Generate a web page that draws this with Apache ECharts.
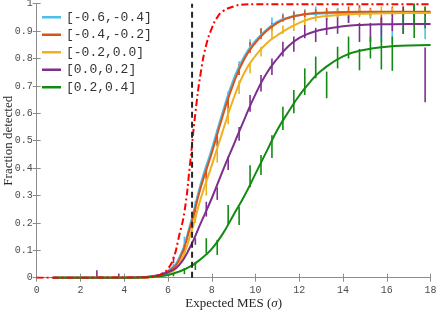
<!DOCTYPE html>
<html>
<head>
<meta charset="utf-8">
<script src="https://cdn.jsdelivr.net/npm/echarts@6/dist/echarts.min.js"></script>
<style>html,body{margin:0;padding:0;background:#fff}#c{width:436px;height:311px}</style>
</head>
<body>
<div id="c"></div>
<script>
// ---- data ----
var seriesNames = ['[-0.6,-0.4]', '[-0.4,-0.2]', '[-0.2,0.0]', '[0.0,0.2]', '[0.2,0.4]'];
var seriesColors = ['#4DBEEE', '#D95319', '#EDB120', '#7E2F8E', '#138A13'];

var xTicks = [0, 2, 4, 6, 8, 10, 12, 14, 16, 18];

// fitted curves (shared x grid)
var fitX = [0.75, 4, 4.5, 5, 5.5, 6, 6.5, 7, 7.5, 8, 8.5, 9, 9.5, 10, 10.5, 11, 11.5, 12, 12.5, 13, 14, 15, 16, 17, 18];
var fitBlue   = [0, 0, 0, 0.002, 0.008, 0.025, 0.07, 0.19, 0.345, 0.47, 0.605, 0.725, 0.81, 0.865, 0.905, 0.935, 0.95, 0.958, 0.962, 0.964, 0.966, 0.967, 0.967, 0.967, 0.967];
var fitOrange = [0, 0, 0, 0.002, 0.007, 0.022, 0.063, 0.18, 0.33, 0.455, 0.59, 0.71, 0.8, 0.858, 0.9, 0.93, 0.948, 0.958, 0.964, 0.967, 0.97, 0.971, 0.971, 0.971, 0.971];
var fitYellow = [0, 0, 0, 0.001, 0.005, 0.015, 0.048, 0.15, 0.29, 0.41, 0.535, 0.655, 0.75, 0.81, 0.855, 0.885, 0.91, 0.93, 0.945, 0.953, 0.96, 0.963, 0.965, 0.966, 0.966];
var fitPurple = [0, 0, 0.001, 0.003, 0.008, 0.02, 0.045, 0.11, 0.2, 0.29, 0.39, 0.485, 0.58, 0.67, 0.745, 0.8, 0.845, 0.875, 0.893, 0.905, 0.918, 0.923, 0.925, 0.926, 0.926];
var fitGreen  = [0, 0, 0, 0.001, 0.004, 0.01, 0.022, 0.04, 0.068, 0.105, 0.16, 0.23, 0.3, 0.38, 0.46, 0.54, 0.605, 0.665, 0.715, 0.755, 0.808, 0.832, 0.843, 0.847, 0.849];

// red dash-dot reference curve
var redX = [0, 5, 5.5, 5.75, 6, 6.25, 6.5, 6.75, 7, 7.25, 7.5, 7.75, 8, 8.25, 8.5, 9, 9.5, 10, 18];
var redY = [0, 0.001, 0.006, 0.015, 0.033, 0.07, 0.15, 0.24, 0.41, 0.6, 0.75, 0.85, 0.91, 0.95, 0.972, 0.99, 0.997, 0.998, 0.998];

var thresholdX = 7.1;

// error bars: x, low, high
var errBlueX  = [5.75, 6.25, 6.75, 7.25, 7.75, 8.25, 8.75, 9.25, 9.75, 10.25, 10.75, 11.25, 11.75, 12.25, 12.75, 13.25, 13.75, 14.25, 14.75, 15.25, 15.75, 16.25, 16.75, 17.25, 17.75];
var errBlueLo = [0.005, 0.03, 0.1, 0.22, 0.34, 0.48, 0.63, 0.74, 0.83, 0.875, 0.91, 0.935, 0.94, 0.95, 0.955, 0.94, 0.95, 0.93, 0.955, 0.945, 0.86, 0.855, 0.93, 0.92, 0.87];
var errBlueHi = [0.015, 0.05, 0.15, 0.28, 0.41, 0.54, 0.68, 0.79, 0.87, 0.91, 0.95, 0.965, 0.975, 0.98, 0.99, 0.98, 0.985, 0.975, 0.99, 0.97, 0.947, 0.947, 0.99, 0.99, 0.96];

var errOrangeX  = [6.25, 6.75, 7.25, 7.75, 8.25, 8.75, 9.25, 9.75, 10.25, 10.75, 11.25, 11.75, 12.25, 12.75, 13.25, 13.75, 14.25, 14.75, 15.25, 15.75, 16.25, 16.75, 17.25, 17.75];
var errOrangeLo = [0.03, 0.09, 0.22, 0.36, 0.48, 0.6, 0.74, 0.82, 0.87, 0.9, 0.935, 0.94, 0.95, 0.955, 0.96, 0.95, 0.96, 0.97, 0.955, 0.93, 0.96, 0.955, 0.96, 0.955];
var errOrangeHi = [0.045, 0.12, 0.26, 0.4, 0.52, 0.65, 0.78, 0.86, 0.91, 0.93, 0.96, 0.97, 0.975, 0.98, 0.985, 0.98, 0.99, 0.995, 0.985, 0.96, 0.99, 0.985, 0.99, 0.985];

var errYellowX  = [6.25, 6.75, 7.25, 7.75, 8.25, 8.75, 9.25, 9.75, 10.25, 10.75, 11.25, 11.75, 12.25, 12.75, 13.25, 13.75, 14.25, 14.75, 15.25, 15.75, 16.25, 16.75, 17.25, 17.75];
var errYellowLo = [0.02, 0.08, 0.2, 0.3, 0.42, 0.56, 0.67, 0.746, 0.807, 0.873, 0.89, 0.9, 0.92, 0.935, 0.94, 0.95, 0.945, 0.95, 0.95, 0.96, 0.955, 0.96, 0.95, 0.955];
var errYellowHi = [0.04, 0.11, 0.24, 0.35, 0.47, 0.62, 0.72, 0.782, 0.843, 0.91, 0.92, 0.94, 0.95, 0.965, 0.97, 0.98, 0.975, 0.985, 0.98, 0.99, 0.985, 0.99, 0.985, 0.99];

var errPurpleX  = [2.75, 3.75, 5.75, 6.25, 6.75, 7.25, 7.75, 8.25, 8.75, 9.25, 9.75, 10.25, 10.75, 11.25, 11.75, 12.25, 12.75, 13.25, 13.75, 14.25, 14.75, 15.25, 15.75, 16.25, 16.75, 17.25, 17.75];
var errPurpleLo = [0, 0, 0.005, 0.053, 0.09, 0.12, 0.223, 0.284, 0.393, 0.5, 0.606, 0.68, 0.74, 0.807, 0.825, 0.874, 0.86, 0.886, 0.89, 0.93, 0.86, 0.86, 0.88, 0.9, 0.89, 0.92, 0.64];
var errPurpleHi = [0.027, 0.015, 0.02, 0.077, 0.12, 0.144, 0.277, 0.33, 0.442, 0.55, 0.667, 0.74, 0.8, 0.861, 0.88, 0.922, 0.912, 0.947, 0.95, 0.96, 0.93, 0.93, 0.95, 0.97, 0.99, 1.0, 0.84];

var errGreenX  = [6.25, 6.75, 7.25, 7.75, 8.25, 8.75, 9.25, 9.75, 10.25, 10.75, 11.25, 11.75, 12.25, 12.75, 13.25, 13.75, 14.25, 14.75, 15.25, 15.75, 16.25, 16.75, 17.25, 17.75];
var errGreenLo = [0.005, 0.013, 0.028, 0.089, 0.083, 0.192, 0.192, 0.33, 0.375, 0.437, 0.539, 0.6, 0.667, 0.728, 0.655, 0.764, 0.8, 0.757, 0.8, 0.76, 0.755, 0.89, 0.875, 0.91];
var errGreenHi = [0.015, 0.035, 0.058, 0.144, 0.138, 0.265, 0.259, 0.41, 0.448, 0.52, 0.624, 0.685, 0.764, 0.807, 0.752, 0.843, 0.88, 0.835, 0.88, 0.88, 0.88, 0.977, 1.0, 0.99];

// ---- build ----
function zip2(xs, ys) { return xs.map(function (x, i) { return [x, ys[i]]; }); }
function zip3(xs, lo, hi) { return xs.map(function (x, i) { return [x, lo[i], hi[i]]; }); }

function errSeries(color, data) {
  return {
    type: 'custom',
    silent: true,
    data: data,
    z: 2,
    renderItem: function (params, api) {
      var x = api.value(0), lo = api.value(1), hi = api.value(2);
      var p1 = api.coord([x, lo]), p2 = api.coord([x, hi]);
      return {
        type: 'line',
        shape: { x1: p1[0], y1: p1[1], x2: p2[0], y2: p2[1] },
        style: { stroke: color, lineWidth: 1.6 }
      };
    }
  };
}

function fitSeries(idx, ys) {
  return {
    name: seriesNames[idx],
    type: 'line',
    data: zip2(fitX, ys),
    smooth: 0.5,
    showSymbol: false,
    symbol: 'none',
    z: 3,
    lineStyle: { color: seriesColors[idx], width: 2 },
    itemStyle: { color: seriesColors[idx] }
  };
}

var fits = [fitBlue, fitOrange, fitYellow, fitPurple, fitGreen];
var errs = [
  zip3(errBlueX, errBlueLo, errBlueHi),
  zip3(errOrangeX, errOrangeLo, errOrangeHi),
  zip3(errYellowX, errYellowLo, errYellowHi),
  zip3(errPurpleX, errPurpleLo, errPurpleHi),
  zip3(errGreenX, errGreenLo, errGreenHi)
];

var series = [];
for (var i = 0; i < 5; i++) series.push(errSeries(seriesColors[i], errs[i]));
for (var j = 0; j < 5; j++) series.push(fitSeries(j, fits[j]));
series.push({
  type: 'line', data: zip2(redX, redY), smooth: 0.5, symbol: 'none', z: 4,
  lineStyle: { color: '#FF0000', width: 2, type: [7, 3, 2, 3] }
});
series.push({
  type: 'line', data: [[thresholdX, 0], [thresholdX, 1]], symbol: 'none', z: 4,
  lineStyle: { color: '#262626', width: 2, type: [6, 4] }
});

var axisGray = '#8c8c8c';
var labelFont = { fontFamily: 'Liberation Mono', fontSize: 10, color: '#4d4d4d' };

var chart = echarts.init(document.getElementById('c'), null, { renderer: 'canvas' });
chart.setOption({
  animation: false,
  backgroundColor: '#fff',
  grid: { left: 36.7, right: 5.4, top: 3.7, bottom: 33.3, containLabel: false, outerBoundsMode: 'none' },
  legend: {
    data: seriesNames,
    orient: 'vertical',
    left: 37, top: 5,
    itemWidth: 19, itemHeight: 2.5, itemGap: 3,
    icon: 'rect',
    textStyle: { fontFamily: 'Liberation Mono', fontSize: 13, color: '#333', lineHeight: 14.5 }
  },
  xAxis: [{
    type: 'value', min: 0, max: 18, interval: 2,
    axisLine: { show: true, lineStyle: { color: axisGray, width: 1 } },
    axisTick: { show: true, inside: true, length: 4, lineStyle: { color: axisGray } },
    axisLabel: Object.assign({ margin: 8, formatter: function (v) { return xTicks.indexOf(v) >= 0 ? String(v) : ''; } }, labelFont),
    splitLine: { show: false },
    name: '{n|Expected MES (}{s|σ}{n|)}',
    nameLocation: 'middle', nameGap: 19, nameMoveOverlap: false,
    nameTextStyle: { rich: {
      n: { fontFamily: 'Liberation Serif', fontSize: 13, color: '#262626' },
      s: { fontFamily: 'Liberation Serif', fontSize: 13, fontStyle: 'italic', color: '#262626' }
    } }
  }, {
    type: 'value', min: 0, max: 18, interval: 2, position: 'top',
    axisLine: { show: true, lineStyle: { color: axisGray, width: 1 } },
    axisTick: { show: true, inside: true, length: 4, lineStyle: { color: axisGray } },
    axisLabel: { show: false }, splitLine: { show: false }
  }],
  yAxis: [{
    type: 'value', min: 0, max: 1, interval: 0.1,
    axisLine: { show: true, lineStyle: { color: axisGray, width: 1 } },
    axisTick: { show: true, inside: true, length: 4, lineStyle: { color: axisGray } },
    axisLabel: Object.assign({ margin: 4 }, labelFont),
    splitLine: { show: false },
    name: 'Fraction detected',
    nameLocation: 'middle', nameGap: 22, nameMoveOverlap: false,
    nameTextStyle: { fontFamily: 'Liberation Serif', fontSize: 13, color: '#262626' }
  }, {
    type: 'value', min: 0, max: 1, interval: 0.1, position: 'right',
    axisLine: { show: true, lineStyle: { color: axisGray, width: 1 } },
    axisTick: { show: true, inside: true, length: 4, lineStyle: { color: axisGray } },
    axisLabel: { show: false }, splitLine: { show: false }
  }],
  series: series
});
</script>
</body>
</html>
